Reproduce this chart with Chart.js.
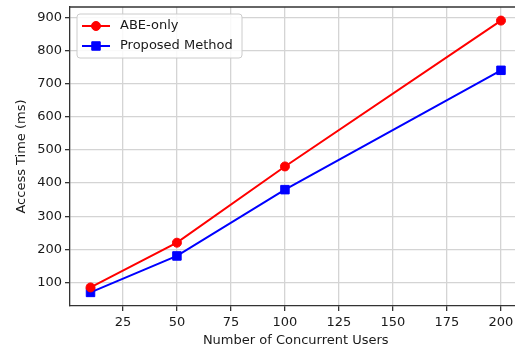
<!DOCTYPE html>
<html>
<head>
<meta charset="utf-8">
<script src="https://cdn.jsdelivr.net/npm/chart.js@4/dist/chart.umd.min.js"></script>
<style>
html,body{margin:0;padding:0;background:#fff;overflow:hidden;}
#clip{width:515px;height:350px;overflow:hidden;position:relative;}
#wrap{width:530px;height:350px;position:absolute;left:0;top:0;}
</style>
</head>
<body>
<div id="clip"><div id="wrap"><canvas id="c" width="530" height="350"></canvas></div></div>
<script>
const users = [10, 50, 100, 200];
const abeOnly = [85, 220, 450, 890];
const proposed = [70, 180, 380, 740];
const xTicks = [25, 50, 75, 100, 125, 150, 175, 200];
const yTicks = [100, 200, 300, 400, 500, 600, 700, 800, 900];
const seriesLabels = ['ABE-only', 'Proposed Method'];
const xTitle = 'Number of Concurrent Users';
const yTitle = 'Access Time (ms)';

const FONT = 'DejaVu Sans';
const textColor = '#1a1a1a';
const spineColor = '#333333';
const gridColor = '#d4d4d4';

const legendPlugin = {
  id: 'innerLegend',
  afterDraw(chart) {
    const ctx = chart.ctx;
    const ca = chart.chartArea;
    ctx.save();
    // top spine
    ctx.strokeStyle = spineColor;
    ctx.lineWidth = 1.3;
    ctx.beginPath();
    ctx.moveTo(ca.left, ca.top);
    ctx.lineTo(ca.right, ca.top);
    ctx.stroke();
    // legend box
    const bx = ca.left + 7, by = ca.top + 7, bw = 165, bh = 44, r = 3;
    ctx.beginPath();
    ctx.moveTo(bx + r, by);
    ctx.lineTo(bx + bw - r, by);
    ctx.arcTo(bx + bw, by, bx + bw, by + r, r);
    ctx.lineTo(bx + bw, by + bh - r);
    ctx.arcTo(bx + bw, by + bh, bx + bw - r, by + bh, r);
    ctx.lineTo(bx + r, by + bh);
    ctx.arcTo(bx, by + bh, bx, by + bh - r, r);
    ctx.lineTo(bx, by + r);
    ctx.arcTo(bx, by, bx + r, by, r);
    ctx.closePath();
    ctx.fillStyle = 'rgba(255,255,255,0.85)';
    ctx.fill();
    ctx.strokeStyle = '#cccccc';
    ctx.lineWidth = 1;
    ctx.stroke();
    chart.data.datasets.forEach((ds, i) => {
      const y = by + 12 + i * 20;
      const x0 = bx + 5, x1 = bx + 33;
      ctx.strokeStyle = ds.borderColor;
      ctx.lineWidth = 2;
      ctx.beginPath();
      ctx.moveTo(x0, y);
      ctx.lineTo(x1, y);
      ctx.stroke();
      ctx.fillStyle = ds.backgroundColor;
      ctx.strokeStyle = ds.borderColor;
      ctx.lineWidth = 1;
      Chart.helpers.drawPoint(ctx, {pointStyle: ds.pointStyle, radius: ds.pointRadius, rotation: 0, borderWidth: 1}, (x0 + x1) / 2, y);
      ctx.fillStyle = textColor;
      ctx.font = '13px "' + FONT + '"';
      ctx.textBaseline = 'middle';
      ctx.textAlign = 'left';
      ctx.fillText(ds.label, bx + 43, y);
    });
    ctx.restore();
  }
};

new Chart(document.getElementById('c'), {
  type: 'line',
  data: {
    datasets: [
      {
        label: seriesLabels[0],
        data: users.map((u, i) => ({x: u, y: abeOnly[i]})),
        borderColor: '#ff0000',
        backgroundColor: '#ff0000',
        borderWidth: 2,
        pointStyle: 'circle',
        pointRadius: 4.5,
        pointBorderWidth: 1,
        pointHoverRadius: 4.5
      },
      {
        label: seriesLabels[1],
        data: users.map((u, i) => ({x: u, y: proposed[i]})),
        borderColor: '#0000ff',
        backgroundColor: '#0000ff',
        borderWidth: 2,
        pointStyle: 'rect',
        pointRadius: 6,
        pointBorderWidth: 1,
        pointHoverRadius: 6
      }
    ]
  },
  options: {
    responsive: false,
    animation: false,
    layout: {padding: {top: 7, right: 8.5, left: 0, bottom: 0}},
    plugins: {legend: {display: false}, tooltip: {enabled: false}},
    scales: {
      x: {
        type: 'linear',
        min: 0.5,
        max: 209.5,
        afterBuildTicks: (s) => { s.ticks = xTicks.map(v => ({value: v})); },
        afterFit: (s) => { s.height = 44; s.paddingLeft = 0; s.paddingRight = 0; },
        grid: {color: gridColor, lineWidth: 1.3, tickColor: spineColor, tickLength: 5, drawTicks: true},
        border: {color: spineColor, width: 1.3},
        ticks: {color: textColor, font: {family: FONT, size: 13}, padding: 4, maxRotation: 0},
        title: {display: true, text: xTitle, color: textColor, font: {family: FONT, size: 13}, padding: {top: 2, bottom: 2}}
      },
      y: {
        type: 'linear',
        min: 29,
        max: 931,
        afterBuildTicks: (s) => { s.ticks = yTicks.map(v => ({value: v})); },
        afterFit: (s) => { s.width = 70; s.paddingTop = 0; s.paddingBottom = 0; },
        grid: {color: gridColor, lineWidth: 1.3, tickColor: spineColor, tickLength: 5, drawTicks: true},
        border: {color: spineColor, width: 1.3},
        ticks: {color: textColor, font: {family: FONT, size: 13}, padding: 3},
        title: {display: true, text: yTitle, color: textColor, font: {family: FONT, size: 13}, padding: {top: 14, bottom: 2}}
      }
    }
  },
  plugins: [legendPlugin]
});
</script>
</body>
</html>
